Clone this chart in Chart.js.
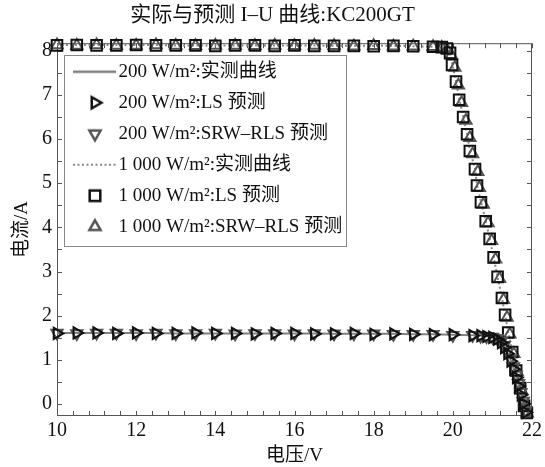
<!DOCTYPE html>
<html>
<head>
<meta charset="utf-8">
<script src="https://cdn.jsdelivr.net/npm/chart.js@4.4.1/dist/chart.umd.min.js"></script>
<style>
  html, body { margin: 0; padding: 0; background: #fff; }
  #wrap { width: 545px; height: 467px; }
</style>
</head>
<body>
<div id="wrap"><canvas id="ivChart" width="545" height="467"></canvas></div>
<script>
const FONT = "'Liberation Serif', 'Noto Sans CJK SC', serif";

// 200 W/m2 - Spannung (V) und Strom (A)
const volt200 = [10, 10.5, 11, 11.5, 12, 12.5, 13, 13.5, 14, 14.5, 15, 15.5, 16, 16.5, 17, 17.5, 18, 18.5, 19, 19.5, 20,
  20.5, 20.7, 20.85, 21.0, 21.12, 21.22, 21.3, 21.38, 21.46, 21.53, 21.6, 21.66, 21.72, 21.78, 21.84];
const curMeas200 = [1.61, 1.61, 1.61, 1.61, 1.61, 1.61, 1.60, 1.60, 1.60, 1.60, 1.60, 1.60, 1.60, 1.60, 1.59, 1.59, 1.59, 1.59, 1.58, 1.58, 1.57,
  1.56, 1.55, 1.54, 1.52, 1.48, 1.41, 1.31, 1.17, 1.00, 0.82, 0.63, 0.44, 0.24, 0.04, -0.17];
const curLS200 = [1.60, 1.61, 1.61, 1.60, 1.61, 1.60, 1.60, 1.61, 1.60, 1.60, 1.59, 1.60, 1.60, 1.59, 1.59, 1.60, 1.58, 1.59, 1.58, 1.57, 1.57,
  1.55, 1.55, 1.53, 1.51, 1.47, 1.39, 1.28, 1.14, 0.97, 0.79, 0.60, 0.41, 0.21, 0.01, -0.19];
const curSRW200 = [1.61, 1.60, 1.61, 1.61, 1.60, 1.61, 1.60, 1.60, 1.61, 1.59, 1.60, 1.60, 1.59, 1.60, 1.59, 1.59, 1.59, 1.58, 1.58, 1.58, 1.56,
  1.56, 1.54, 1.53, 1.52, 1.49, 1.42, 1.33, 1.19, 1.03, 0.85, 0.66, 0.47, 0.27, 0.07, -0.14];

// 1000 W/m2
const volt1000 = [10, 10.5, 11, 11.5, 12, 12.5, 13, 13.5, 14, 14.5, 15, 15.5, 16, 16.5, 17, 17.5, 18, 18.5, 19, 19.5,
  19.72, 19.85, 19.93, 19.98, 20.08, 20.16, 20.26, 20.36, 20.43, 20.56, 20.61, 20.71, 20.83, 20.93, 21.03, 21.13, 21.24, 21.32, 21.4, 21.5, 21.6, 21.7, 21.8, 21.87];
const curMeas1000 = [8.13, 8.13, 8.13, 8.13, 8.13, 8.13, 8.12, 8.12, 8.12, 8.12, 8.12, 8.12, 8.12, 8.12, 8.11, 8.11, 8.11, 8.11, 8.10, 8.09,
  8.07, 8.04, 7.96, 7.72, 7.32, 6.92, 6.52, 6.12, 5.75, 5.33, 4.97, 4.58, 4.15, 3.75, 3.33, 2.88, 2.40, 2.02, 1.62, 1.19, 0.77, 0.37, -0.03, -0.19];
const curLS1000 = [8.12, 8.13, 8.12, 8.12, 8.13, 8.12, 8.12, 8.12, 8.11, 8.12, 8.12, 8.11, 8.12, 8.11, 8.11, 8.11, 8.10, 8.11, 8.10, 8.09,
  8.08, 8.05, 7.95, 7.68, 7.30, 6.89, 6.50, 6.11, 5.73, 5.32, 4.95, 4.57, 4.14, 3.74, 3.32, 2.88, 2.40, 2.02, 1.62, 1.18, 0.76, 0.36, -0.04, -0.20];
const voltSRW1000 = [10, 10.5, 11, 11.5, 12, 12.5, 13, 13.5, 14, 14.5, 15, 15.5, 16, 16.5, 17, 17.5, 18, 18.5, 19, 19.5,
  19.72, 19.85, 19.96, 20.05, 20.14, 20.22, 20.33, 20.43, 20.5, 20.63, 20.67, 20.77, 20.89, 20.98, 21.08, 21.18, 21.28, 21.37, 21.44, 21.54, 21.63, 21.73, 21.82, 21.88];
const curSRW1000 = [8.13, 8.12, 8.13, 8.12, 8.12, 8.13, 8.12, 8.11, 8.12, 8.12, 8.11, 8.12, 8.11, 8.12, 8.11, 8.10, 8.11, 8.10, 8.10, 8.09,
  8.07, 8.03, 7.90, 7.62, 7.22, 6.82, 6.42, 6.03, 5.66, 5.26, 4.90, 4.52, 4.10, 3.70, 3.28, 2.84, 2.36, 1.96, 1.58, 1.14, 0.72, 0.32, -0.07, -0.21];

const seriesLabels = [
  '200 W/m²:实测曲线',
  '200 W/m²:LS 预测',
  '200 W/m²:SRW–RLS 预测',
  '1 000 W/m²:实测曲线',
  '1 000 W/m²:LS 预测',
  '1 000 W/m²:SRW–RLS 预测'
];

// Achsen-Ticks (Hauptticks mit Beschriftung)
const xMajorTicks = [10, 12, 14, 16, 18, 20, 22];
const yMajorTicks = [0, 1, 2, 3, 4, 5, 6, 7, 8];
const xMinorPerMajor = 5;   // alle 0.4 V
const yMinorPerMajor = 2;   // alle 0.5 A

function withMinor(major, n) {
  const out = [];
  for (let i = 0; i < major.length - 1; i++) {
    const step = (major[i + 1] - major[i]) / n;
    for (let k = 0; k < n; k++) out.push(+(major[i] + k * step).toFixed(4));
  }
  out.push(major[major.length - 1]);
  return out;
}
const xAllTicks = withMinor(xMajorTicks, xMinorPerMajor);
const yAllTicks = withMinor(yMajorTicks, yMinorPerMajor);

function toPoints(xs, ys) {
  return xs.map((x, i) => ({ x: x, y: ys[i] }));
}

// kleine Symbole fuer die Legende (Bild 54x18, Symbol leicht rechts der Mitte)
function legendSymbol(kind, opt) {
  const c = document.createElement('canvas');
  c.width = 54; c.height = 18;
  const g = c.getContext('2d');
  g.strokeStyle = opt.color;
  g.lineWidth = opt.width;
  if (kind === 'line') {
    g.setLineDash(opt.dash || []);
    g.beginPath();
    g.moveTo(11, 9);
    g.lineTo(54, 9);
    g.stroke();
  } else {
    g.fillStyle = 'rgba(0,0,0,0)';
    Chart.helpers.drawPoint(g, { pointStyle: kind, rotation: opt.rotation || 0, radius: opt.radius, borderWidth: opt.width }, 33, 9);
  }
  return c;
}

const markerStyle = [
  null,
  { kind: 'triangle', rotation: 90, color: '#111', radius: 6.5 },
  { kind: 'triangle', rotation: 180, color: '#555', radius: 6.5 },
  null,
  { kind: 'rect', rotation: 0, color: '#111', radius: 7.5 },
  { kind: 'triangle', rotation: 0, color: '#555', radius: 6.5 }
];

const legendSymbols = [
  legendSymbol('line', { color: '#808080', width: 2.5 }),
  legendSymbol('triangle', { color: '#111', width: 2.5, rotation: 90, radius: 6.5 }),
  legendSymbol('triangle', { color: '#555', width: 2.5, rotation: 180, radius: 6.5 }),
  legendSymbol('line', { color: '#888', width: 2, dash: [2, 2.5] }),
  legendSymbol('rect', { color: '#111', width: 2.5, radius: 7.5 }),
  legendSymbol('triangle', { color: '#555', width: 2.5, rotation: 0, radius: 6.5 })
];

function markerDataset(idx, xs, ys) {
  const m = markerStyle[idx];
  return {
    label: seriesLabels[idx],
    data: toPoints(xs, ys),
    showLine: false,
    pointStyle: m.kind,
    rotation: m.rotation,
    pointRadius: m.radius,
    pointBorderWidth: 2,
    pointBorderColor: m.color,
    pointBackgroundColor: 'rgba(0,0,0,0)',
    clip: false,
    order: 1
  };
}

// Rahmen + nach innen zeigende Ticks + Legendenrahmen
const axisFrame = {
  id: 'axisFrame',
  afterLayout(chart) {
    // Legende in den Plotbereich schieben (oben links)
    const lg = chart.legend;
    if (!lg) return;
    lg.top = chart.chartArea.top;
    lg.bottom = chart.chartArea.bottom;
    lg.height = lg.bottom - lg.top;
  },
  beforeDatasetsDraw(chart) {
    const { ctx, chartArea: a, scales } = chart;
    ctx.save();
    ctx.strokeStyle = '#555';
    ctx.lineWidth = 1;
    ctx.strokeRect(a.left + 0.5, a.top + 0.5, a.right - a.left - 1, a.bottom - a.top - 1);
    ctx.beginPath();
    scales.x.ticks.forEach(t => {
      const px = Math.round(scales.x.getPixelForValue(t.value)) + 0.5;
      ctx.moveTo(px, a.bottom); ctx.lineTo(px, a.bottom - 5);
      ctx.moveTo(px, a.top); ctx.lineTo(px, a.top + 5);
    });
    scales.y.ticks.forEach(t => {
      const py = Math.round(scales.y.getPixelForValue(t.value)) + 0.5;
      ctx.moveTo(a.left, py); ctx.lineTo(a.left + 5, py);
      ctx.moveTo(a.right, py); ctx.lineTo(a.right - 5, py);
    });
    ctx.stroke();
    ctx.restore();
  },
  afterDraw(chart) {
    const boxes = chart.legend && chart.legend.legendHitBoxes;
    if (!boxes || !boxes.length) return;
    const left = Math.min(...boxes.map(b => b.left)) - 5;
    const right = Math.max(...boxes.map(b => b.left + b.width)) + 4;
    const top = boxes[0].top - 7;
    const bottom = boxes[boxes.length - 1].top + boxes[boxes.length - 1].height + 10;
    const ctx = chart.ctx;
    ctx.save();
    ctx.strokeStyle = '#888';
    ctx.lineWidth = 1;
    ctx.strokeRect(Math.round(left) + 0.5, Math.round(top) + 0.5, Math.round(right - left), Math.round(bottom - top));
    ctx.restore();
  }
};

const ctx = document.getElementById('ivChart').getContext('2d');

new Chart(ctx, {
  type: 'scatter',
  data: {
    datasets: [
      {
        label: seriesLabels[0],
        data: toPoints(volt200, curMeas200),
        showLine: true,
        borderColor: '#808080',
        borderWidth: 2,
        pointRadius: 0,
        order: 5
      },
      markerDataset(1, volt200, curLS200),
      markerDataset(2, volt200, curSRW200),
      {
        label: seriesLabels[3],
        data: toPoints(volt1000, curMeas1000),
        showLine: true,
        borderColor: '#888',
        borderWidth: 2,
        borderDash: [2, 2.5],
        pointRadius: 0,
        order: 5
      },
      markerDataset(4, volt1000, curLS1000),
      markerDataset(5, voltSRW1000, curSRW1000)
    ]
  },
  options: {
    responsive: false,
    animation: false,
    devicePixelRatio: 1,
    layout: { padding: { left: 0, right: 0, top: 0, bottom: 0 } },
    scales: {
      x: {
        type: 'linear',
        min: 10,
        max: 22,
        afterBuildTicks: (scale) => { scale.ticks = xAllTicks.map(v => ({ value: v })); },
        afterFit: (scale) => { scale.height = 51; scale.paddingRight = 13; },
        grid: { display: false, drawTicks: false },
        border: { display: false },
        ticks: {
          autoSkip: false,
          maxRotation: 0,
          padding: 3,
          color: '#111',
          font: { family: FONT, size: 20 },
          callback: (v) => xMajorTicks.some(m => Math.abs(m - v) < 1e-6) ? String(Math.round(v)) : ''
        },
        title: {
          display: true,
          text: '电压/V',
          color: '#111',
          padding: { top: 0, bottom: 0 },
          font: { family: FONT, size: 19 }
        }
      },
      y: {
        type: 'linear',
        min: -0.27,
        max: 8.17,
        afterBuildTicks: (scale) => { scale.ticks = yAllTicks.map(v => ({ value: v })); },
        afterFit: (scale) => { scale.width = 57; },
        grid: { display: false, drawTicks: false },
        border: { display: false },
        ticks: {
          autoSkip: false,
          padding: 5,
          color: '#111',
          font: { family: FONT, size: 20 },
          callback: (v) => yMajorTicks.some(m => Math.abs(m - v) < 1e-6) ? String(Math.round(v)) : ''
        },
        title: {
          display: true,
          text: '电流/A',
          color: '#111',
          padding: { top: 11, bottom: 0 },
          font: { family: FONT, size: 19 }
        }
      }
    },
    plugins: {
      title: {
        display: true,
        text: '实际与预测 I–U 曲线:KC200GT',
        color: '#111',
        padding: { top: 3, bottom: 15 },
        font: { family: FONT, size: 21, weight: 'normal' }
      },
      legend: {
        position: 'chartArea',
        align: 'start',
        title: { display: true, text: '', padding: { top: 1, bottom: 0 }, font: { family: FONT, size: 6, lineHeight: 1 } },
        labels: {
          usePointStyle: true,
          pointStyleWidth: 40,
          padding: 12,
          color: '#111',
          font: { family: FONT, size: 19 },
          generateLabels: (chart) => chart.data.datasets.map((ds, i) => ({
            text: ds.label,
            pointStyle: legendSymbols[i],
            rotation: 0,
            fillStyle: 'rgba(0,0,0,0)',
            strokeStyle: 'rgba(0,0,0,0)',
            lineWidth: 0,
            hidden: false,
            datasetIndex: i,
            fontColor: '#111'
          }))
        }
      },
      tooltip: { enabled: false }
    }
  },
  plugins: [axisFrame]
});
</script>
</body>
</html>
